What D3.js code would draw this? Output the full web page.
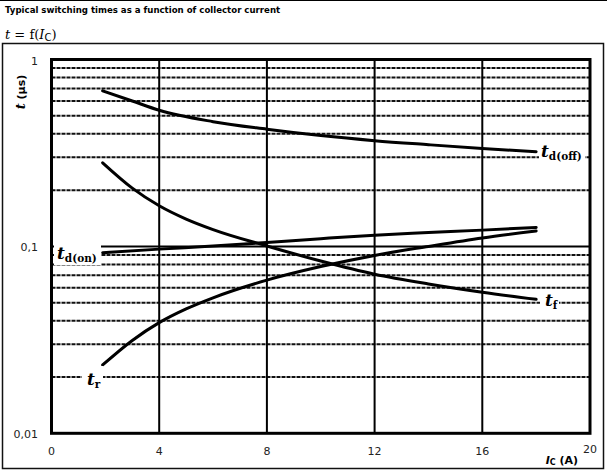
<!DOCTYPE html>
<html><head><meta charset="utf-8">
<script src="https://cdn.jsdelivr.net/npm/d3@7"></script>
<style>body{margin:0;background:#fff}svg{display:block}</style>
</head><body>
<script>
const title = "Typical switching times as a function of collector current";
const xTicks = [0, 4, 8, 12, 16, 20];
const yTicks = [0.01, 0.1, 1];
const yTickLabels = ["0,01", "0,1", "1"];
const yMinor = [0.02,0.03,0.04,0.05,0.06,0.07,0.08,0.09,0.2,0.3,0.4,0.5,0.6,0.7,0.8,0.9];

const icTdOff = [1.9, 3, 4, 6, 8, 10, 12, 14, 16, 18];
const tdOff   = [0.68, 0.6, 0.535, 0.465, 0.424, 0.392, 0.368, 0.35, 0.334, 0.321];
const icTf = [1.9, 3, 4, 5, 6, 8, 10, 12, 14, 16, 18];
const tf   = [0.28, 0.205, 0.165, 0.14, 0.123, 0.1005, 0.0835, 0.071, 0.063, 0.0569, 0.0521];
const icTr = [1.9, 3, 4, 5, 6, 8, 10, 12, 14, 16, 18];
const tr   = [0.0232, 0.0314, 0.0391, 0.0463, 0.0531, 0.066, 0.078, 0.0895, 0.1, 0.111, 0.121];
const icTdOn = [1.9, 4, 6, 8, 10, 12, 14, 16, 18];
const tdOn   = [0.0925, 0.0967, 0.1005, 0.105, 0.11, 0.1148, 0.1185, 0.1222, 0.1264];

const W = 607, H = 476;
const svg = d3.select("body").append("svg").attr("width", W).attr("height", H);
const x = d3.scaleLinear().domain([0, 20]).range([51.5, 590]);
const y = d3.scaleLog().domain([0.01, 1]).range([433.3, 59.5]);

// page frame
svg.append("line").attr("x1",0).attr("x2",W).attr("y1",0.5).attr("y2",0.5).attr("stroke","#000").attr("stroke-width",1);
svg.append("rect").attr("x",2.5).attr("y",43.5).attr("width",601).attr("height",425)
  .attr("fill","none").attr("stroke","#111").attr("stroke-width",1.5);

svg.append("text").attr("x",5).attr("y",13).attr("font-family","DejaVu Sans").attr("font-weight","bold")
  .attr("font-size",8.6).text(title);
const ft = svg.append("text").attr("x",5).attr("y",39).attr("font-family","DejaVu Serif").attr("font-size",13);
ft.append("tspan").attr("font-style","italic").text("t");
ft.append("tspan").text(" = f(");
ft.append("tspan").attr("font-style","italic").text("I");
ft.append("tspan").attr("font-family","DejaVu Sans").attr("font-size",10).attr("dy",2).text("C");
ft.append("tspan").attr("dy",-2).text(")");

// grid
const g = svg.append("g");
g.selectAll(".hm").data(yMinor).join("line")
  .attr("x1", x(0)).attr("x2", x(20)).attr("y1", d => y(d)).attr("y2", d => y(d))
  .attr("stroke","#111").attr("stroke-width",2).attr("stroke-dasharray","4,1");
g.append("line").attr("x1", x(0)).attr("x2", x(20)).attr("y1", y(0.1)).attr("y2", y(0.1))
  .attr("stroke","#000").attr("stroke-width",2);
g.selectAll(".v").data(xTicks.slice(1, -1)).join("line")
  .attr("x1", d => x(d)).attr("x2", d => x(d)).attr("y1", y(1)).attr("y2", y(0.01))
  .attr("stroke","#000").attr("stroke-width",2);

// curves
const line = d3.line().x(d => x(d[0])).y(d => y(d[1])).curve(d3.curveMonotoneX);
const series = [[icTdOff, tdOff], [icTf, tf], [icTr, tr], [icTdOn, tdOn]];
series.forEach(([xs, ys]) => {
  svg.append("path").datum(xs.map((v, i) => [v, ys[i]])).attr("d", line)
    .attr("fill","none").attr("stroke","#000").attr("stroke-width",3).attr("stroke-linecap","round");
});

// curve labels with white background
function curveLabel(px, py, sub, bg) {
  svg.append("rect").attr("x", bg[0]).attr("y", bg[1]).attr("width", bg[2]).attr("height", bg[3]).attr("fill","#fff");
  const t = svg.append("text").attr("x", px).attr("y", py).attr("font-family","DejaVu Serif").attr("font-weight","bold");
  t.append("tspan").attr("font-style","italic").attr("font-size",17).text("t");
  t.append("tspan").attr("font-size",10.5).attr("dy",3).text(sub);
}
curveLabel(541, 157, "d(off)", [539, 143, 46, 22]);
curveLabel(545, 306, "f", [540, 292, 19, 20]);
curveLabel(87, 385, "r", [82, 366, 21, 24]);
curveLabel(57, 259, "d(on)", [54, 241, 47, 24]);

// plot frame
svg.append("rect").attr("x", x(0)).attr("y", y(1)).attr("width", x(20) - x(0)).attr("height", y(0.01) - y(1))
  .attr("fill","none").attr("stroke","#000").attr("stroke-width",3);

// tick labels
svg.selectAll(".yl").data(yTicks).join("text")
  .attr("x", 38).attr("y", d => y(d) + 2).attr("text-anchor","end").attr("dominant-baseline","middle")
  .attr("font-family","DejaVu Sans").attr("font-size",11).attr("fill","#222")
  .text((d, i) => yTickLabels[i]);
svg.selectAll(".xl").data(xTicks).join("text")
  .attr("x", d => x(d)).attr("y", d => d === 20 ? 450 : 452).attr("text-anchor","middle").attr("dominant-baseline","middle")
  .attr("font-family","DejaVu Sans").attr("font-size",11).attr("fill","#222")
  .text(d => d);

// axis titles
const yt = svg.append("text").attr("transform","translate(25,92) rotate(-90)").attr("text-anchor","middle")
  .attr("font-weight","bold").attr("font-size",11).attr("font-family","DejaVu Sans");
yt.append("tspan").attr("font-family","DejaVu Serif").attr("font-style","italic").attr("font-size",13).text("t");
yt.append("tspan").text(" (µs)");
const xt = svg.append("text").attr("x", 578).attr("y", 464).attr("text-anchor","end")
  .attr("font-weight","bold").attr("font-size",11).attr("font-family","DejaVu Sans");
xt.append("tspan").attr("font-style","italic").text("I");
xt.append("tspan").attr("font-size",8).attr("dy",1).text("C");
xt.append("tspan").attr("dy",-1).text(" (A)");
</script>
</body></html>
